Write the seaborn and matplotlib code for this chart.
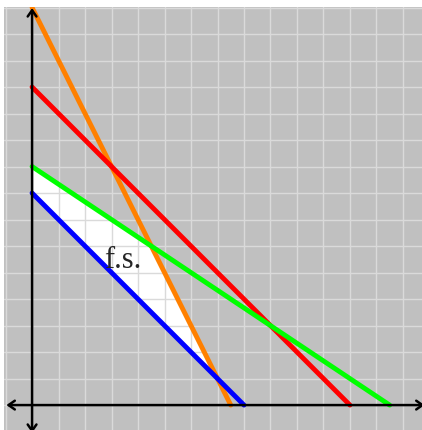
import numpy as np
import pandas as pd
import matplotlib
matplotlib.use("Agg")
import matplotlib.pyplot as plt
import seaborn as sns

# constraint lines: a*x + b*y = c
line_names = ["orange", "red", "green", "blue"]
coef_a = [2, 1, 2, 1]
coef_b = [1, 1, 3, 1]
coef_c = [15, 12, 27, 8]
line_colors = ["#ff8000", "#ff0000", "#00ff00", "#0000ff"]

label_text = "f.s."
label_pos = (3.42, 5.17)

sns.set_style("whitegrid", {"axes.facecolor": "#c0c0c0",
                            "grid.color": "#dadada"})

fig = plt.figure(figsize=(4.22, 4.30), dpi=100)
ax = fig.add_axes([4 / 422, 0, 418 / 422, 423 / 430])

# build line data from the intercepts
rows = []
for name, a, b, c in zip(line_names, coef_a, coef_b, coef_c):
    rows.append({"line": name, "x": 0.0, "y": c / b})
    rows.append({"line": name, "x": c / a, "y": 0.0})
df = pd.DataFrame(rows)

# feasible set: above blue, below orange and green
xs = np.linspace(0, 8, 801)
lower = (coef_c[3] - coef_a[3] * xs) / coef_b[3]
upper = np.minimum((coef_c[0] - coef_a[0] * xs) / coef_b[0],
                   (coef_c[2] - coef_a[2] * xs) / coef_b[2])
ax.fill_between(xs, lower, upper, where=upper >= lower, color="white",
                lw=0, zorder=1)

sns.lineplot(data=df, x="x", y="y", hue="line", hue_order=line_names,
             palette=line_colors, lw=3.5, legend=False, ax=ax,
             sort=False, estimator=None, units="line", zorder=3)

xmin, xmax = -1.06, 14.72
ymin, ymax = -0.94, 15.02
ax.set_xlim(xmin, xmax)
ax.set_ylim(ymin, ymax)
ax.set_xticks(np.arange(-1, 15))
ax.set_yticks(np.arange(0, 16))
ax.set_xticklabels([])
ax.set_yticklabels([])
ax.tick_params(length=0)
ax.set_axisbelow(False)
ax.grid(True, lw=1, color="#dadada", zorder=2)
for s in ax.spines.values():
    s.set_visible(False)
ax.set_xlabel("")
ax.set_ylabel("")

# axes with arrows
arrow = dict(arrowstyle="<->,head_length=0.5,head_width=0.35", lw=1.8,
             color="black", mutation_scale=9, shrinkA=0, shrinkB=0)
ax.annotate("", xy=(-0.97, 0), xytext=(14.82, 0), arrowprops=arrow,
            zorder=4)
ax.annotate("", xy=(0, 14.98), xytext=(0, -1.05), arrowprops=arrow,
            zorder=4)

ax.text(label_pos[0], label_pos[1], label_text, fontsize=22,
        family=["Liberation Serif", "DejaVu Serif"], ha="center",
        va="baseline", zorder=5)

fig.savefig("out.png", dpi=100)
